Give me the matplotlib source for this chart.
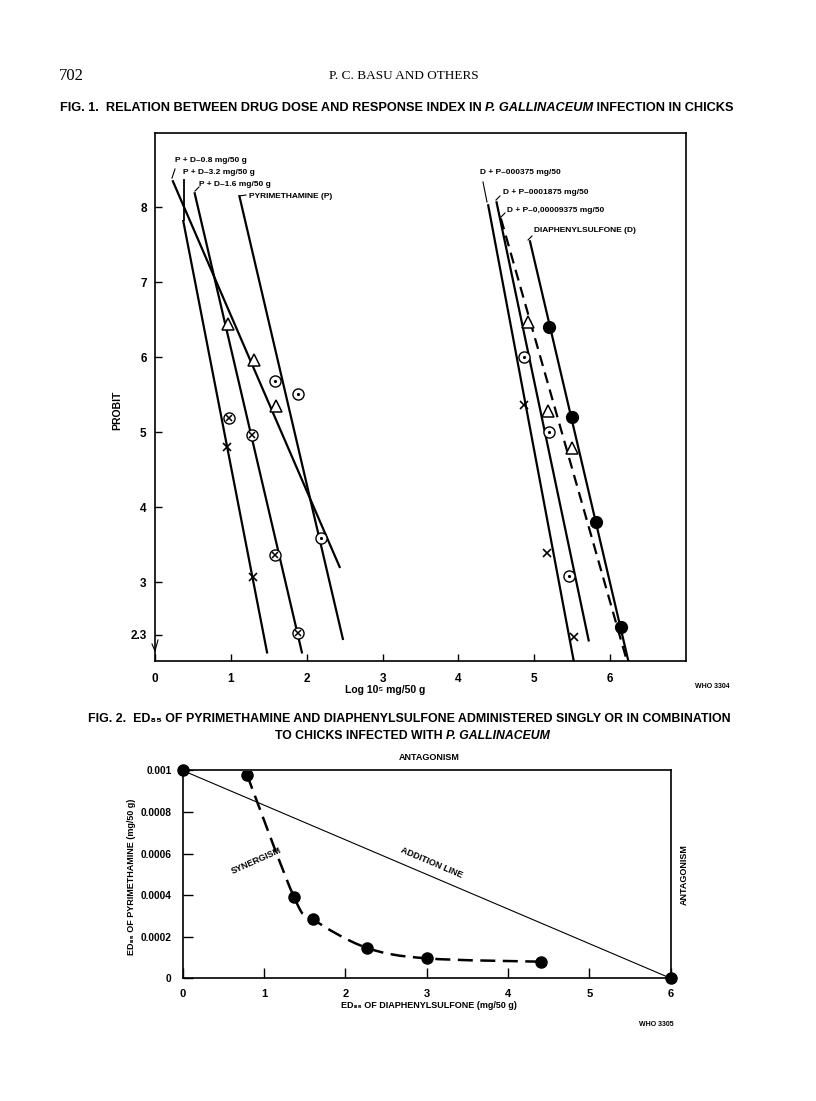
import numpy as np
import matplotlib
matplotlib.use('Agg')
import matplotlib.pyplot as plt
from matplotlib.path import Path
from matplotlib.patches import PathPatch

plt.rcParams['font.family'] = ['Liberation Sans', 'DejaVu Sans']
plt.rcParams['font.weight'] = 'bold'

# ---------- FIG. 1 data (log 10^5 mg/50 g, probit) ----------
# fitted lines: start / end points
line_names = ['P+D-0.8', 'P+D-3.2', 'P+D-1.6', 'P',
              'D+P-000375', 'D+P-0001875', 'D+P-0.00009375', 'D']
line_x0 = [0.23, 0.37, 0.52, 1.11, 4.39, 4.50, 4.56, 4.94]
line_y0 = [8.36, 7.83, 8.20, 8.16, 8.04, 8.08, 7.85, 7.56]
line_x1 = [2.44, 1.48, 1.94, 2.48, 5.52, 5.72, 6.21, 6.24]
line_y1 = [3.19, 2.05, 2.05, 2.23, 1.95, 2.21, 1.99, 1.95]
line_dashed = [False, False, False, False, False, False, True, False]

# observed points, left group
tri_x = [0.96, 1.30, 1.60]
tri_y = [6.45, 5.97, 5.35]
pdot_x = [1.585, 1.89, 2.19]
pdot_y = [5.68, 5.51, 3.59]
cx_x = [0.98, 1.28, 1.585, 1.88]
cx_y = [5.19, 4.97, 3.36, 2.33]
xm_x = [0.95, 1.29]
xm_y = [4.80, 3.07]

# observed points, right group
dfill_x = [5.19, 5.50, 5.81, 6.14]
dfill_y = [6.40, 5.20, 3.80, 2.41]
tri2_x = [4.92, 5.18, 5.50]
tri2_y = [6.47, 5.28, 4.79]
ddot_x = [4.87, 5.20, 5.46]
ddot_y = [6.00, 5.00, 3.09]
xm2_x = [4.87, 5.17, 5.52]
xm2_y = [5.37, 3.39, 2.27]

probit_ticks = [2.3, 3, 4, 5, 6, 7, 8]
probit_labels = ['2.3', '3', '4', '5', '6', '7', '8']
dose_ticks = [0, 1, 2, 3, 4, 5, 6]

# ---------- FIG. 2 data ----------
syn_x = [0.79, 1.37, 1.60, 2.26, 3.00, 4.40]
syn_y = [0.00098, 0.00039, 0.000285, 0.000147, 0.000096, 0.00008]
add_x = [0, 6]
add_y = [0.001, 0]
ed_yticks = [0, 0.0002, 0.0004, 0.0006, 0.0008, 0.001]
ed_ylabels = ['0', '0.0002', '0.0004', '0.0006', '0.0008', '0.001']
ed_xticks = [0, 1, 2, 3, 4, 5, 6]

fig = plt.figure(figsize=(8.16, 11.01), dpi=100)

# page layer in pixel coordinates, drawn on top of the plots (transparent)
bg = fig.add_axes([0, 0, 1, 1], zorder=5)
bg.set_xlim(0, 816)
bg.set_ylim(1101, 0)
bg.axis('off')
bg.patch.set_alpha(0)

serif = ['Liberation Serif', 'DejaVu Serif']
bg.text(59, 76, '702', family=serif, fontsize=12, weight='normal', va='center')
bg.text(404, 76, 'P. C. BASU AND OTHERS', family=serif, fontsize=9.5,
        weight='normal', va='center', ha='center')


def title_line(x, y, parts, size):
    prev = None
    for txt, ital in parts:
        st = 'italic' if ital else 'normal'
        if prev is None:
            prev = bg.text(x, y, txt, fontsize=size, style=st, va='center', ha='left')
        else:
            prev = bg.annotate(txt, xy=(1, 0.5), xycoords=prev, fontsize=size,
                               style=st, va='center', ha='left')
    return prev


title_line(60, 108, [('FIG. 1.  RELATION BETWEEN DRUG DOSE AND RESPONSE INDEX IN ', False),
                     ('P. GALLINACEUM', True), (' INFECTION IN CHICKS', False)], 9.2)
title_line(88, 719, [('FIG. 2.  ED\u2088\u2085 OF PYRIMETHAMINE AND DIAPHENYLSULFONE ADMINISTERED SINGLY OR IN COMBINATION', False)], 8.95)
title_line(275, 736, [('TO CHICKS INFECTED WITH ', False), ('P. GALLINACEUM', True)], 8.8)

# ---------- FIG. 1 ----------
ax1 = fig.add_axes([155 / 816, 440 / 1101, 531 / 816, 528 / 1101], zorder=2)
ax1.set_xlim(0, 7)
ax1.set_ylim(1.95, 8.99)
for x0, y0, x1, y1, dsh in zip(line_x0, line_y0, line_x1, line_y1, line_dashed):
    ax1.plot([x0, x1], [y0, y1], color='k', lw=1.6,
             ls=(0, (5, 3)) if dsh else '-', solid_capstyle='butt')

ax1.plot(tri_x + tri2_x, tri_y + tri2_y, ls='none', marker='^', ms=9,
         mfc='white', mec='k', mew=1.1, zorder=4)
ax1.plot(pdot_x + ddot_x, pdot_y + ddot_y, ls='none', marker='o', ms=8,
         mfc='white', mec='k', mew=1.0, zorder=4)
ax1.plot(pdot_x + ddot_x, pdot_y + ddot_y, ls='none', marker='.', ms=2.5,
         color='k', zorder=5)
ax1.plot(cx_x, cx_y, ls='none', marker='o', ms=8, mfc='white', mec='k',
         mew=1.0, zorder=4)
ax1.plot(cx_x, cx_y, ls='none', marker='x', ms=5, mec='k', mew=1.1, zorder=5)
ax1.plot(xm_x + xm2_x, xm_y + xm2_y, ls='none', marker='x', ms=5.5, mec='k',
         mew=1.2, zorder=5)
ax1.plot(dfill_x, dfill_y, ls='none', marker='o', ms=8.5, color='k', zorder=5)

ax1.set_yticks(probit_ticks)
ax1.set_yticklabels(probit_labels)
ax1.set_xticks(dose_ticks)
ax1.tick_params(direction='in', length=5, width=1, labelsize=8.5, pad=6)
ax1.tick_params(axis='x', pad=9)
for s in ax1.spines.values():
    s.set_linewidth(1.2)

bg.text(117, 410, 'PROBIT', rotation=90, fontsize=7.5, va='center', ha='center')
bg.text(385, 690, 'Log 10\u2075 mg/50 g', fontsize=7.5, va='center', ha='center')
bg.text(712, 687, 'WHO 3304', fontsize=5, va='center', ha='center')

# axis break mark
bg.plot([152, 155, 158], [644, 651, 640], color='k', lw=0.8)

# line labels with leaders
lab = dict(fontsize=6, va='center', ha='left')
bg.text(175, 161, 'P + D\u20130.8 mg/50 g', **lab)
bg.plot([172, 175], [178, 169], color='k', lw=0.8)
bg.text(183, 173, 'P + D\u20133.2 mg/50 g', **lab)
bg.plot([184, 184], [180, 220], color='k', lw=1.3)
bg.text(199, 185, 'P + D\u20131.6 mg/50 g', **lab)
bg.plot([195, 199], [191, 187], color='k', lw=0.8)
bg.text(249, 197, 'PYRIMETHAMINE (P)', **lab)
bg.plot([239, 246], [196, 195], color='k', lw=0.8)

bg.text(480, 172, 'D + P\u2013000375 mg/50', **lab)
bg.plot([483, 487], [182, 202], color='k', lw=0.8)
bg.text(503, 192, 'D + P\u20130001875 mg/50', **lab)
bg.plot([496, 500], [200, 196], color='k', lw=0.8)
bg.text(507, 210, 'D + P\u20130,00009375 mg/50', **lab)
bg.plot([501, 505], [217, 213], color='k', lw=0.8)
bg.text(534, 231, 'DIAPHENYLSULFONE (D)', **lab)
bg.plot([528, 532], [240, 236], color='k', lw=0.8)

# ---------- FIG. 2 ----------
ax2 = fig.add_axes([182.7 / 816, 122.7 / 1101, 488 / 816, 207.8 / 1101], zorder=2)
ax2.set_xlim(0, 6)
ax2.set_ylim(0, 0.001)
ax2.plot(add_x, add_y, color='k', lw=0.8)
ax2.plot(add_x, add_y, ls='none', marker='o', ms=8, color='k', clip_on=False, zorder=5)

# smooth dashed curve through the synergism points (Catmull-Rom)
pts = np.column_stack([syn_x, syn_y])
ext = np.vstack([pts[0], pts, pts[-1]])
verts = [tuple(pts[0])]
codes = [Path.MOVETO]
for i in range(len(pts) - 1):
    p0, p1, p2, p3 = ext[i], ext[i + 1], ext[i + 2], ext[i + 3]
    verts += [tuple(p1 + (p2 - p0) / 6), tuple(p2 - (p3 - p1) / 6), tuple(p2)]
    codes += [Path.CURVE4] * 3
ax2.add_patch(PathPatch(Path(verts, codes), fill=False, lw=1.8, ec='k',
                        ls=(0, (6, 3)), transform=ax2.transData))
ax2.plot(syn_x, syn_y, ls='none', marker='o', ms=8, color='k', zorder=5)

ax2.set_yticks(ed_yticks)
ax2.set_yticklabels(ed_ylabels)
ax2.set_xticks(ed_xticks)
ax2.tick_params(direction='in', length=7, width=1, labelsize=7.3, pad=8)
ax2.tick_params(axis='x', labelsize=8)
for s in ax2.spines.values():
    s.set_linewidth(1.2)

bg.text(429, 757, 'ANTAGONISM', fontsize=6.5, va='center', ha='center')
bg.text(684, 875, 'ANTAGONISM', fontsize=6.5, rotation=90, va='center', ha='center')
bg.text(256, 861, 'SYNERGISM', fontsize=6.5, rotation=24, va='center', ha='center')
bg.text(432, 863, 'ADDITION LINE', fontsize=6.5, rotation=-23, va='center', ha='center')
bg.text(131, 877, 'ED\u2088\u2085 OF PYRIMETHAMINE (mg/50 g)', fontsize=6.5,
        rotation=90, va='center', ha='center')
bg.text(429, 1005, 'ED\u2088\u2085 OF DIAPHENYLSULFONE (mg/50 g)', fontsize=6.5,
        va='center', ha='center')
bg.text(656, 1024, 'WHO 3305', fontsize=5, va='center', ha='center')

fig.savefig('out.png', dpi=100)
